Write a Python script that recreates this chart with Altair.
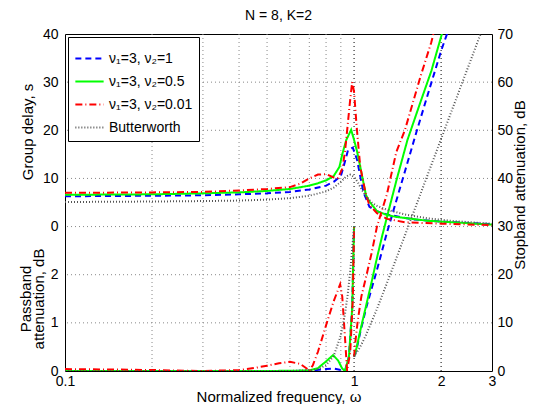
import altair as alt
import pandas as pd

FONT = "Liberation Sans"

TITLE = "N = 8, K=2"
X_TITLE = "Normalized frequency, ω"
GD_TITLE = "Group delay, s"
PB_TITLE = "Passband\nattenuation, dB"
SB_TITLE = "Stopband attenuation, dB"

SERIES = ["ν₁=3, ν₂=1", "ν₁=3, ν₂=0.5", "ν₁=3, ν₂=0.01", "Butterworth"]
COLORS = ["#0000ff", "#00ff00", "#ff0000", "#555555"]
DASHES = [[6, 4], [1, 0], [7, 3, 1, 3], [1, 2]]
WIDTHS = [2, 2, 2, 1]

X_TICKS = [0.1, 1, 2, 3]
X_GRID_MINOR = [0.2, 0.3, 0.4, 0.5, 0.6, 0.7, 0.8, 0.9]
X_GRID_MAJOR = [1, 2]
Y_GRID = [10, 20, 30, 40, 50, 60]
Y_TICKS = [0, 10, 20, 30, 40, 50, 60, 70]

# group delay, s  (omega, value)
GD_BLUE = [(0.1, 6.3), (0.2, 6.4), (0.3, 6.5), (0.4, 6.7), (0.5, 6.9), (0.6, 7.2), (0.7, 7.7),
           (0.8, 8.5), (0.85, 9.3), (0.9, 10.5), (0.93, 13.5), (0.953, 15.9), (0.99, 16.4),
           (1.024, 13.9), (1.05, 10.5), (1.077, 7.2), (1.13, 4.1), (1.2, 3.2), (1.3, 2.5),
           (1.6, 1.5), (2.04, 1.0), (3.0, 0.5)]
GD_GREEN = [(0.1, 6.6), (0.2, 6.7), (0.3, 6.9), (0.4, 7.1), (0.5, 7.4), (0.6, 7.8), (0.7, 8.5),
            (0.75, 9.0), (0.8, 9.6), (0.85, 10.5), (0.89, 12.4), (0.91, 15.0), (0.94, 18.0),
            (0.977, 20.1), (1.0, 18.0), (1.025, 15.5), (1.05, 12.5), (1.07, 10.0), (1.1, 6.5),
            (1.13, 5.2), (1.2, 3.2), (1.3, 2.4), (1.4, 2.0), (1.8, 1.2), (3.0, 0.4)]
GD_RED = [(0.1, 7.0), (0.2, 7.1), (0.3, 7.2), (0.4, 7.5), (0.5, 7.8), (0.6, 8.2), (0.65, 8.9),
          (0.7, 10.0), (0.75, 10.8), (0.8, 10.9), (0.85, 10.2), (0.88, 10.1), (0.91, 12.0),
          (0.93, 15.5), (0.95, 21.0), (0.97, 26.5), (0.985, 30.0), (1.0, 28.0), (1.02, 21.0),
          (1.05, 12.5), (1.07, 10.0), (1.1, 6.5), (1.13, 4.5), (1.2, 2.8), (1.3, 1.6),
          (1.5, 0.9), (2.0, 0.6), (3.0, 0.3)]
GD_BUTTER = [(0.1, 5.1), (0.2, 5.2), (0.3, 5.3), (0.4, 5.4), (0.5, 5.6), (0.6, 5.9), (0.7, 6.4),
             (0.8, 7.3), (0.85, 8.1), (0.9, 9.3), (0.94, 10.4), (0.97, 10.8), (1.0, 10.3),
             (1.03, 9.2), (1.06, 7.8), (1.1, 6.3), (1.15, 5.0), (1.2, 4.3), (1.3, 3.5),
             (1.5, 2.5), (1.8, 1.7), (2.2, 1.15), (3.0, 0.6)]

# passband attenuation, dB
PB_BLUE = [(0.1, 0.0), (0.6, 0.0), (0.7, 0.005), (0.8, 0.04), (0.85, 0.05), (0.9, 0.02),
           (0.93, 0.0), (0.96, 0.3), (0.985, 1.3), (1.0, 3.0)]
PB_GREEN = [(0.1, 0.0), (0.5, 0.0), (0.7, 0.01), (0.75, 0.06), (0.8, 0.2), (0.846, 0.33),
            (0.88, 0.22), (0.91, 0.05), (0.93, 0.0), (0.96, 0.3), (0.985, 1.3), (1.0, 3.0)]
PB_RED = [(0.1, 0.04), (0.15, 0.03), (0.2, 0.02), (0.3, 0.0), (0.4, 0.02), (0.45, 0.06),
          (0.5, 0.11), (0.55, 0.16), (0.6, 0.19), (0.65, 0.15), (0.69, 0.04), (0.7, 0.0),
          (0.72, 0.12), (0.75, 0.4), (0.8, 0.95), (0.85, 1.45), (0.895, 1.8), (0.91, 1.55),
          (0.93, 0.7), (0.946, 0.0), (0.97, 0.4), (0.99, 1.5), (1.0, 3.0)]
PB_BUTTER = [(0.1, 0.0), (0.6, 0.001), (0.7, 0.014), (0.75, 0.04), (0.8, 0.12), (0.85, 0.31),
             (0.9, 0.74), (0.93, 1.18), (0.95, 1.58), (0.97, 2.08), (1.0, 3.0)]

# stopband attenuation, dB
SB_BLUE = [(1.0, 3.0), (1.02, 4.5), (1.05, 8.0), (1.1, 13.0), (1.13, 15.5), (1.2, 21.0),
           (1.3, 28.8), (1.5, 41.5), (1.65, 50.0), (1.8, 57.5), (2.0, 66.5), (2.11, 70.5)]
SB_GREEN = [(1.0, 3.0), (1.02, 4.8), (1.05, 8.3), (1.1, 13.5), (1.15, 18.5), (1.2, 23.5),
            (1.25, 28.0), (1.3, 32.0), (1.4, 39.5), (1.53, 48.0), (1.7, 56.0), (1.85, 62.3),
            (2.03, 70.8)]
SB_RED = [(1.0, 3.0), (1.01, 6.0), (1.03, 10.5), (1.06, 15.5), (1.1, 19.5), (1.15, 24.5),
          (1.2, 30.0), (1.3, 36.8), (1.4, 45.5), (1.5, 50.1), (1.7, 61.3), (1.85, 68.3),
          (1.89, 70.5)]
SB_BUTTER = [(1.0, 3.0), (1.05, 5.0), (1.1, 7.5), (1.2, 12.9), (1.3, 18.3), (1.4, 23.4),
             (1.5, 28.2), (1.7, 36.9), (2.0, 48.2), (2.3, 57.9), (2.6, 66.4), (2.8, 71.5)]

GD = [GD_BLUE, GD_GREEN, GD_RED, GD_BUTTER]
PB = [PB_BLUE, PB_GREEN, PB_RED, PB_BUTTER]
SB = [SB_BLUE, SB_GREEN, SB_RED, SB_BUTTER]

rows = []
for i, name in enumerate(SERIES):
    for w, v in GD[i]:
        rows.append({"series": name, "part": f"{i}gd", "omega": w, "c": 30 + v})
    for w, v in PB[i]:
        rows.append({"series": name, "part": f"{i}pb", "omega": w, "c": 10 * v})
    for w, v in SB[i]:
        rows.append({"series": name, "part": f"{i}sb", "omega": w, "c": v})
df = pd.DataFrame(rows)

xs = alt.Scale(type="log", domain=[0.1, 3], nice=False)
ys = alt.Scale(domain=[0, 70], nice=False, zero=False)

xaxis = alt.Axis(values=X_TICKS, format="~g", title=X_TITLE, grid=False, ticks=False,
                 tickSize=0, domain=False, labelFlush=False, labelPadding=3,
                 labelFont=FONT, labelFontSize=14, labelColor="black",
                 titleFont=FONT, titleFontSize=15, titleFontWeight="normal",
                 titleColor="black", titlePadding=1)
X = alt.X("omega:Q", scale=xs, axis=xaxis)

left_axis = alt.Axis(values=Y_TICKS, orient="left", title=None, grid=False, ticks=False,
                     tickSize=0, domain=False, labelPadding=7, labelFont=FONT,
                     labelFontSize=14, labelColor="black",
                     labelExpr="datum.value >= 30 ? format(datum.value - 30, 'd') : format(datum.value / 10, 'd')")
right_axis = alt.Axis(values=Y_TICKS, orient="right", title=None, grid=False, ticks=False,
                      tickSize=0, domain=False, labelPadding=5, labelFont=FONT,
                      labelFontSize=14, labelColor="black", format="d")

hgrid = alt.Chart(pd.DataFrame({"c": Y_GRID})).mark_rule(
    color="#888888", strokeWidth=1, strokeDash=[1, 3]
).encode(y=alt.Y("c:Q", scale=ys, axis=right_axis))

vgrid_minor = alt.Chart(pd.DataFrame({"omega": X_GRID_MINOR})).mark_rule(
    color="#888888", strokeWidth=1, strokeDash=[1, 3]
).encode(x=X)

vgrid_major = alt.Chart(pd.DataFrame({"omega": X_GRID_MAJOR})).mark_rule(
    color="#000000", strokeWidth=1, strokeDash=[1, 3]
).encode(x=X)

lines = alt.Chart(df).mark_line(clip=True).encode(
    x=X,
    y=alt.Y("c:Q", scale=ys, axis=left_axis),
    color=alt.Color("series:N", scale=alt.Scale(domain=SERIES, range=COLORS),
                    legend=alt.Legend(title=None)),
    strokeDash=alt.StrokeDash("series:N", scale=alt.Scale(domain=SERIES, range=DASHES),
                              legend=alt.Legend(title=None)),
    strokeWidth=alt.StrokeWidth("series:N", scale=alt.Scale(domain=SERIES, range=WIDTHS),
                                legend=alt.Legend(title=None)),
    detail="part:N",
)

gd_title = alt.Chart(pd.DataFrame({"t": [GD_TITLE]})).mark_text(
    angle=270, font=FONT, fontSize=15, color="black", align="center", baseline="middle"
).encode(text="t:N", x=alt.value(-37), y=alt.value(98))

pb_title = alt.Chart(pd.DataFrame({"t": [PB_TITLE]})).mark_text(
    angle=270, font=FONT, fontSize=15, color="black", align="center", baseline="middle",
    lineBreak="\n", lineHeight=13
).encode(text="t:N", x=alt.value(-39), y=alt.value(265))

sb_title = alt.Chart(pd.DataFrame({"t": [SB_TITLE]})).mark_text(
    angle=270, font=FONT, fontSize=15, color="black", align="center", baseline="middle"
).encode(text="t:N", x=alt.value(455), y=alt.value(151))

chart = alt.layer(
    hgrid, vgrid_minor, vgrid_major, lines, gd_title, pb_title, sb_title
).resolve_scale(y="shared").resolve_axis(y="independent").properties(
    width=427, height=337,
    autosize=alt.AutoSizeParams(type="none"),
    padding={"left": 57, "top": 26, "right": 37, "bottom": 33},
    title=alt.TitleParams(TITLE, font=FONT, fontSize=14, fontWeight="normal",
                          color="black", offset=4),
).configure_view(
    stroke="black", strokeWidth=1
).configure_legend(
    orient="none", legendX=3, legendY=3, strokeColor="black", fillColor="white",
    padding=6, cornerRadius=0, symbolType="stroke", symbolSize=800,
    labelFont=FONT, labelFontSize=14, labelColor="black", labelOffset=4,
    rowPadding=0, symbolStrokeWidth=2
)

chart.save("out.html", embed_options={"renderer": "svg", "actions": False})
